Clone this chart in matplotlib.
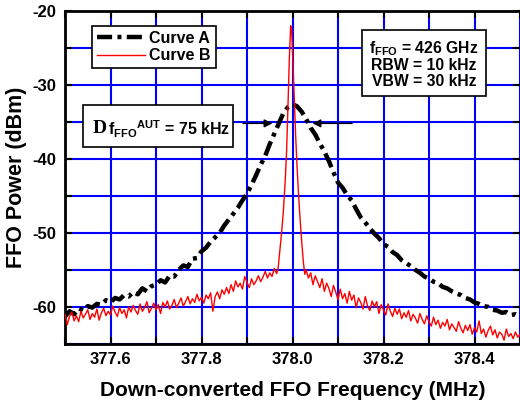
import numpy as np
import matplotlib
matplotlib.use("Agg")
import matplotlib.pyplot as plt
from matplotlib.ticker import MultipleLocator
from matplotlib.patches import Rectangle

plt.rcParams['font.family'] = ['Liberation Sans', 'DejaVu Sans']
plt.rcParams['font.weight'] = 'bold'
plt.rcParams['mathtext.default'] = 'regular'

# Curve A (broad line), read every 10 kHz
freq_a = np.linspace(377.50, 378.50, 101)
power_a = [
    -61.3, -60.6, -61.0, -60.2, -60.5, -59.9, -60.1, -59.6, -59.7, -59.1,
    -59.4, -58.8, -59.0, -58.4, -58.6, -58.0, -58.3, -57.5, -57.9, -57.2,
    -57.0, -56.4, -56.7, -55.8, -55.9, -55.0, -54.4, -54.6, -53.5, -53.4,
    -52.5, -52.0, -51.2, -50.6, -50.0, -49.0, -48.2, -47.4, -46.6, -45.6,
    -44.7, -43.5, -42.2, -40.8, -39.6, -38.0, -36.6, -35.2, -33.8, -33.0,
    -32.6, -32.9, -33.6, -34.6, -35.8, -36.7, -37.9, -39.0, -40.3, -41.8,
    -43.2, -43.9, -44.9, -45.6, -46.8, -47.9, -48.6, -49.4, -50.1, -50.7,
    -51.5, -51.9, -52.6, -53.0, -53.7, -54.1, -54.5, -55.0, -55.4, -55.9,
    -56.2, -56.6, -56.8, -57.3, -57.5, -57.9, -58.2, -58.4, -58.8, -59.0,
    -59.4, -59.6, -59.9, -60.0, -60.4, -60.5, -60.8, -60.7, -61.1, -61.0,
    -61.3,
]

# Curve B (narrow line): left wing, peak, right wing
power_b_left = [
    -61.0, -62.4, -61.3, -60.7, -61.9, -61.2, -62.0, -60.6, -61.5, -61.0,
    -60.4, -61.7, -60.9, -61.4, -60.3, -61.8, -60.8, -60.2, -61.2, -60.6,
    -61.1, -59.9, -60.7, -61.3, -60.1, -60.9, -60.4, -61.5, -60.0, -60.7,
    -59.8, -60.5, -61.0, -59.6, -60.6, -60.1, -59.3, -60.8, -60.2, -59.5,
    -60.4, -59.7, -60.9, -59.4, -60.0, -59.2, -60.3, -59.8, -59.0, -60.1,
    -59.5, -58.8, -59.9, -59.3, -58.6, -59.6, -58.9, -59.4, -58.3, -59.2,
    -58.7, -59.5, -58.4, -58.9, -58.1, -60.6, -58.6, -58.0, -58.9, -57.7,
    -58.3, -57.4, -58.2, -57.0, -57.9, -56.5, -57.3, -56.8, -57.6, -55.9,
    -56.7, -57.4, -56.2, -57.0, -56.5, -55.8, -56.6, -56.0, -55.2, -56.1,
    -55.4, -55.9, -54.8, -55.5,
]
freq_b_peak = [377.968, 377.972, 377.976, 377.980, 377.984, 377.987, 377.990,
               377.993, 377.996, 377.998, 378.001, 378.004, 378.007, 378.010,
               378.013, 378.016, 378.020, 378.024, 378.027]
power_b_peak = [-55.0, -52.5, -50.0, -47.0, -43.0, -39.0, -33.0,
                -26.5, -22.0, -22.5, -27.0, -32.0, -37.0, -41.0,
                -44.5, -47.5, -51.0, -54.0, -55.6]
power_b_right = [
    -55.0, -56.1, -55.4, -57.0, -55.8, -56.6, -57.4, -56.2, -57.9, -56.8,
    -57.5, -58.6, -57.1, -58.0, -59.0, -57.6, -58.9, -58.2, -59.5, -57.9,
    -59.1, -58.4, -60.1, -58.8, -59.4, -60.3, -58.6, -59.9, -60.5, -59.2,
    -60.0, -59.3, -60.9, -59.7, -60.4, -61.1, -59.6, -60.6, -61.3, -60.2,
    -61.0, -60.3, -61.6, -60.8, -61.4, -60.5, -61.9, -61.0, -61.5, -62.2,
    -60.9, -61.7, -62.3, -61.2, -62.0, -62.6, -61.4, -62.4, -61.8, -62.9,
    -62.1, -62.6, -61.7, -63.1, -62.3, -62.8, -63.3, -62.0, -62.9, -63.5,
    -62.5, -63.2, -62.4, -63.7, -62.8, -63.4, -61.9, -63.6, -63.0, -64.1,
    -63.2, -62.6, -63.8, -63.1, -64.2, -63.4, -63.7, -64.5, -63.0, -64.0,
    -63.6, -64.3, -63.4, -64.1, -63.7,
]
freq_b = np.concatenate([
    np.linspace(377.500, 377.965, len(power_b_left)),
    freq_b_peak,
    np.linspace(378.030, 378.500, len(power_b_right)),
])
power_b = np.concatenate([power_b_left, power_b_peak, power_b_right])

fig = plt.figure(figsize=(5.2, 4.05), dpi=100)
ax = fig.add_axes([0.125, 0.151, 0.875, 0.822])

ax.set_xlim(377.5, 378.5)
ax.set_ylim(-65, -20)
ax.xaxis.set_major_locator(MultipleLocator(0.2))
ax.xaxis.set_minor_locator(MultipleLocator(0.1))
ax.yaxis.set_major_locator(MultipleLocator(10))
ax.yaxis.set_minor_locator(MultipleLocator(5))
ax.grid(True, which='both', color='#0000ff', linewidth=1.5)
ax.set_axisbelow(True)
ax.tick_params(which='both', direction='in', top=True, right=True,
               length=5, width=1.5, labelsize=12, pad=6)
ax.xaxis.set_major_formatter(plt.FuncFormatter(lambda v, p: f"{v:.1f}"))
ax.yaxis.set_major_formatter(plt.FuncFormatter(lambda v, p: f"{v:.0f}"))
for lab in ax.get_xticklabels() + ax.get_yticklabels():
    lab.set_fontweight('bold')
for side in ['left', 'bottom', 'top']:
    ax.spines[side].set_linewidth(2)
ax.spines['right'].set_visible(False)

ax.plot(freq_a, power_a, color='black', linewidth=3.2,
        linestyle=(0, (3.4, 1.2, 0.9, 1.2)), label='Curve A', zorder=3)
ax.plot(freq_b, power_b, color='red', linewidth=1.0, label='Curve B', zorder=4)

ax.set_xlabel('Down-converted FFO Frequency (MHz)', fontsize=15, fontweight='bold', labelpad=10)
ax.set_ylabel('FFO Power (dBm)', fontsize=15.5, fontweight='bold', labelpad=4)

leg = ax.legend(loc='upper left', bbox_to_anchor=(0.059, 0.955), borderaxespad=0,
                fontsize=11.5, frameon=True, fancybox=False, edgecolor='black',
                framealpha=1, handlelength=3.0, handletextpad=0.3,
                borderpad=0.3, labelspacing=0.15)
leg.get_frame().set_linewidth(1.2)
leg.get_frame().set_facecolor('white')
for t in leg.get_texts():
    t.set_fontweight('bold')

ax.text(0.789, 0.841, r'f$_{FFO}$ = 426 GHz' + '\nRBW = 10 kHz\nVBW = 30 kHz',
        transform=ax.transAxes, ha='center', va='center', fontsize=11.3,
        fontweight='bold', linespacing=1.05, zorder=6,
        bbox=dict(boxstyle='square,pad=0.45', facecolor='white', edgecolor='black', linewidth=1.2))

# linewidth box
ax.add_patch(Rectangle((0.0396, 0.592), 0.3295, 0.126, transform=ax.transAxes,
                       facecolor='white', edgecolor='black', linewidth=1.2, zorder=5))
ax.text(0.061, 0.648, 'D', transform=ax.transAxes, ha='left', va='center',
        fontsize=14, fontweight='bold', family='Liberation Serif', zorder=6)
ax.text(0.094, 0.644, r'f$_{FFO}{}^{AUT}$ = 75 kHz',
        transform=ax.transAxes, ha='left', va='center', fontsize=11.5,
        fontweight='bold', zorder=6)

# linewidth arrows
ax.annotate('', xy=(377.962, -35.2), xytext=(377.885, -35.2),
            arrowprops=dict(arrowstyle='-|>', color='black', lw=1.0, mutation_scale=12))
ax.annotate('', xy=(378.038, -35.2), xytext=(378.137, -35.2),
            arrowprops=dict(arrowstyle='-|>', color='black', lw=1.0, mutation_scale=12))

plt.savefig('out.png', dpi=100)
